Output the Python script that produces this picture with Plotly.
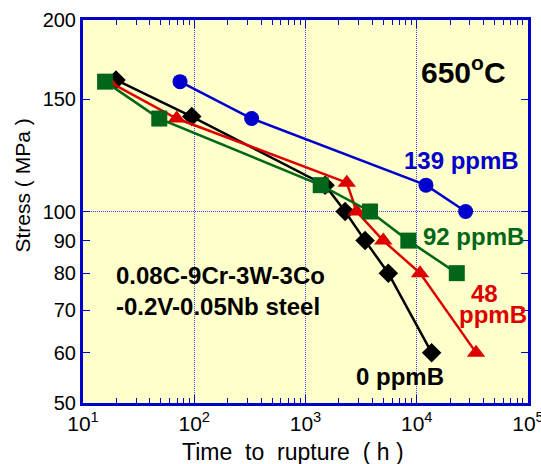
import plotly.graph_objects as go

# ---- data ----
b0_time = [19.8, 95, 1500, 2270, 3430, 5550, 13600]
b0_stress = [161, 141, 110, 100, 90, 80, 60]

b48_time = [17, 69.5, 2350, 2880, 5000, 10700, 34100]
b48_stress = [160, 140, 111, 100, 90, 80, 60]

b92_time = [15.8, 48.5, 1370, 3800, 8400, 22900]
b92_stress = [160, 140, 110, 100, 90, 80]

b139_time = [74.5, 328, 12100, 27500]
b139_stress = [160, 140, 110, 100]

x_tickvals = [10, 100, 1000, 10000, 100000]
x_ticktext = ["10<sup>1</sup>", "10<sup>2</sup>", "10<sup>3</sup>", "10<sup>4</sup>", "10<sup>5</sup>"]
x_minor = [m * d for d in [10, 100, 1000, 10000] for m in range(2, 10)]
y_tickvals = [50, 60, 70, 80, 90, 100, 150, 200]
y_ticktext = ["50", "60", "70", "80", "90", "100", "150", "200"]
y_grid = [100]

FONT = "Liberation Sans, Arial, sans-serif"
BLUE = "#0000CC"
GREEN = "#006619"
RED = "#DD0000"
BLACK = "#000000"
GRID = "#4444EE"

fig = go.Figure()
fig.add_trace(go.Scatter(x=b0_time, y=b0_stress, mode="lines+markers",
                         line=dict(color=BLACK, width=2.5),
                         marker=dict(symbol="diamond", size=15, color=BLACK)))
fig.add_trace(go.Scatter(x=b48_time, y=b48_stress, mode="lines+markers",
                         line=dict(color=RED, width=2.5),
                         marker=dict(symbol="triangle-up", size=16, color=RED)))
fig.add_trace(go.Scatter(x=b92_time, y=b92_stress, mode="lines+markers",
                         line=dict(color=GREEN, width=2.5),
                         marker=dict(symbol="square", size=16, color=GREEN)))
fig.add_trace(go.Scatter(x=b139_time, y=b139_stress, mode="lines+markers",
                         line=dict(color=BLUE, width=2.5),
                         marker=dict(symbol="circle", size=15, color=BLUE)))

fig.update_layout(
    width=541, height=464,
    margin=dict(l=83, r=13, t=20, b=61),
    paper_bgcolor="white",
    plot_bgcolor="#FFFFCC",
    showlegend=False,
    font=dict(family=FONT, size=20, color="black"),
    xaxis=dict(
        type="log", range=[1, 5], automargin=False, ticklabeloverflow="allow",
        tickmode="array", tickvals=x_tickvals, ticktext=x_ticktext,
        ticks="inside", ticklen=8, tickcolor=BLUE, tickwidth=1,
        showgrid=True, griddash="1px,1px", gridcolor=GRID, gridwidth=1,
        showline=True, mirror="allticks", linecolor=BLUE, linewidth=3,
        minor=dict(tickmode="array", tickvals=x_minor, ticks="inside",
                   ticklen=5, tickcolor=BLUE, tickwidth=1, showgrid=False),
        tickfont=dict(size=21),
        zeroline=False,
    ),
    yaxis=dict(
        type="log", range=[1.69897, 2.30103], automargin=False, ticklabeloverflow="allow",
        tickmode="array", tickvals=y_tickvals, ticktext=y_ticktext,
        ticks="inside", ticklen=7, tickcolor=BLUE, tickwidth=1,
        showgrid=False,
        showline=True, mirror="allticks", linecolor=BLUE, linewidth=3,
        minor=dict(tickmode="array", tickvals=y_grid, ticks="",
                   showgrid=True, griddash="1px,1px", gridcolor=GRID, gridwidth=1),
        tickfont=dict(size=20),
        zeroline=False,
    ),
)

ann = dict(xref="paper", yref="paper", showarrow=False, yanchor="middle")
# axis titles
fig.add_annotation(text="Time\u00a0 to\u00a0 rupture\u00a0 (\u00a0h\u00a0)", x=0.472, y=-0.128,
                   xanchor="center", font=dict(size=23, color="black"), **ann)
fig.add_annotation(text="Stress\u00a0(\u00a0MPa\u00a0)", x=-0.137, y=0.568, textangle=-90,
                   xanchor="center", font=dict(size=21, color="black"), **ann)
# in-plot labels
fig.add_annotation(text="<b>650<sup>o</sup>C</b>", x=0.855, y=0.869, xanchor="center",
                   font=dict(size=30, color="black"), **ann)
fig.add_annotation(text="<b>139 ppmB</b>", x=0.850, y=0.634, xanchor="center",
                   font=dict(size=24, color=BLUE), **ann)
fig.add_annotation(text="<b>92 ppmB</b>", x=0.878, y=0.434, xanchor="center",
                   font=dict(size=24, color=GREEN), **ann)
fig.add_annotation(text="<b>48</b>", x=0.902, y=0.287, xanchor="center",
                   font=dict(size=24, color=RED), **ann)
fig.add_annotation(text="<b>ppmB</b>", x=0.921, y=0.232, xanchor="center",
                   font=dict(size=24, color=RED), **ann)
fig.add_annotation(text="<b>0 ppmB</b>", x=0.713, y=0.069, xanchor="center",
                   font=dict(size=24, color="black"), **ann)
fig.add_annotation(text="<b>0.08C-9Cr-3W-3Co</b>",
                   x=0.070, y=0.334, xanchor="left", align="left",
                   font=dict(size=24, color="black"), **ann)
fig.add_annotation(text="<b>-0.2V-0.05Nb steel</b>",
                   x=0.070, y=0.253, xanchor="left", align="left",
                   font=dict(size=24, color="black"), **ann)

fig.write_html("out.html", config={"displayModeBar": False},
               post_script="document.body.style.margin='0';document.body.style.overflow='hidden';")
